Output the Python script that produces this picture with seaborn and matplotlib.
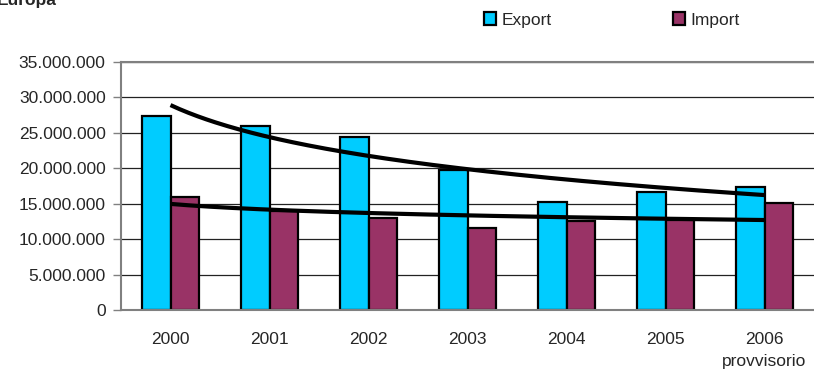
import matplotlib
matplotlib.use('Agg')
import matplotlib.pyplot as plt
from matplotlib.patches import Patch
from matplotlib.ticker import FuncFormatter, FixedLocator
import numpy as np
import pandas as pd
import seaborn as sns

# data
years = ['2000', '2001', '2002', '2003', '2004', '2005', '2006']
tick_labels = ['2000', '2001', '2002', '2003', '2004', '2005', '2006\nprovvisorio']
export = [27_400_000, 25_900_000, 24_400_000, 19_800_000, 15_300_000, 16_700_000, 17_300_000]
imports = [16_000_000, 14_000_000, 13_000_000, 11_600_000, 12_500_000, 12_700_000, 15_050_000]
series = ['Export', 'Import']
colors = ['#00CCFF', '#993366']

df = pd.DataFrame({
    'Anno': years * 2,
    'Valore': export + imports,
    'Serie': ['Export'] * len(years) + ['Import'] * len(years),
})

sns.set_style('white')
plt.rcParams['font.family'] = ['Liberation Sans', 'DejaVu Sans']
FS = 12.5

fig = plt.figure(figsize=(8.14, 3.70), dpi=100)
ax = fig.add_axes([121 / 814, 60 / 370, 1 - 121 / 814, 248 / 370])

sns.barplot(data=df, x='Anno', y='Valore', hue='Serie', hue_order=series,
            palette=colors, width=0.576, edgecolor='black', linewidth=1.6,
            saturation=1, ax=ax, legend=False, errorbar=None)

# logarithmic trendlines (as Excel does) fitted on the series
xs = np.linspace(0, len(years) - 1, 200)
for vals in (export, imports):
    b, a = np.polyfit(np.log(np.arange(1, len(vals) + 1)), vals, 1)
    ax.plot(xs, a + b * np.log(xs + 1), color='black', lw=3.0, zorder=5,
            solid_capstyle='butt')

ax.set_xlim(-0.5, len(years) - 0.5)
ax.set_ylim(0, 35_000_000)
ax.set_yticks(np.arange(0, 35_000_001, 5_000_000))
ax.yaxis.set_major_formatter(FuncFormatter(lambda v, p: f'{int(v):,}'.replace(',', '.')))
ax.grid(axis='y', color='#222222', lw=0.9)
ax.set_axisbelow(True)

ax.set_xticks(range(len(years)))
ax.set_xticklabels(tick_labels, fontsize=FS, linespacing=1.55)
ax.xaxis.set_minor_locator(FixedLocator(np.arange(-0.5, len(years), 1)))
ax.tick_params(axis='x', which='major', length=0, pad=16)
ax.tick_params(axis='x', which='minor', length=5, width=1, color='#808080', direction='out')
ax.tick_params(axis='y', length=6, width=1, color='#808080', direction='out',
               labelsize=FS, pad=5, left=True)
ax.set_xlabel('')
ax.set_ylabel('')

for side in ('left', 'bottom', 'top'):
    ax.spines[side].set_color('#808080')
    ax.spines[side].set_linewidth(1.5)
ax.spines['right'].set_visible(False)

handles = [Patch(facecolor=c, edgecolor='black', linewidth=1.6) for c in colors]
fig.legend(handles, series, loc='center', bbox_to_anchor=(0.752, 0.946), ncol=2,
           frameon=False, fontsize=FS, handlelength=0.7, handleheight=0.7,
           handletextpad=0.3, columnspacing=7.0)

fig.text(-0.004, 0.987, 'Europa', fontsize=FS, fontweight='bold', va='baseline', ha='left')

fig.savefig('out.png', dpi=100)
